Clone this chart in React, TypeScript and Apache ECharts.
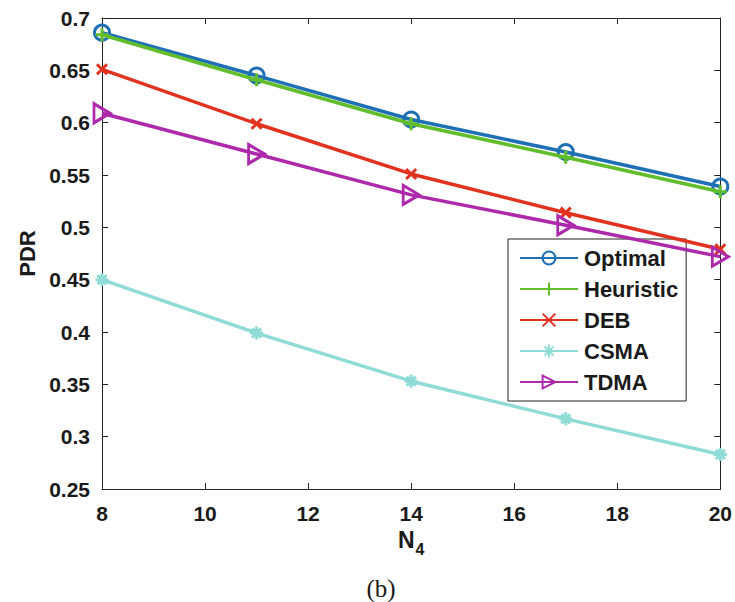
import React, { useEffect, useRef } from "react";
import * as echarts from "echarts";

const xValues = [8, 11, 14, 17, 20];
const optimal = [0.686, 0.645, 0.603, 0.572, 0.539];
const heuristic = [0.684, 0.641, 0.599, 0.567, 0.534];
const deb = [0.651, 0.599, 0.551, 0.514, 0.479];
const csma = [0.45, 0.399, 0.353, 0.317, 0.283];
const tdma = [0.609, 0.57, 0.531, 0.502, 0.472];
const seriesNames = ["Optimal", "Heuristic", "DEB", "CSMA", "TDMA"];

const COLORS = ["#1f6fb4", "#62bd2c", "#e0321f", "#8fdcd6", "#ad2aaa"];
const SYMBOLS = [
  "circle",
  "path://M5,0 L5,10 M0,5 L10,5",
  "path://M0,0 L10,10 M10,0 L0,10",
  "path://M5,0 L5,10 M0,5 L10,5 M1.5,1.5 L8.5,8.5 M8.5,1.5 L1.5,8.5",
  "path://M0,0 L10,5 L0,10 Z",
];
const SIZES = [15, 13, 10, 13, [16, 19]];

export default function App() {
  const ref = useRef<HTMLDivElement>(null);
  useEffect(() => {
    if (!ref.current) return;
    const chart = echarts.init(ref.current, undefined, { renderer: "svg" });
    const data = [optimal, heuristic, deb, csma, tdma];
    const font = "Liberation Sans";
    const series = seriesNames.map((name, i) => ({
      name,
      type: "line",
      data: xValues.map((x, j) => [x, data[i][j]]),
      symbol: SYMBOLS[i],
      symbolSize: SIZES[i],
      showAllSymbol: true,
      z: 2 + i,
      lineStyle: { color: COLORS[i], width: 3.5 },
      itemStyle: {
        color: i === 0 || i === 4 ? "rgba(255,255,255,0)" : COLORS[i],
        borderColor: COLORS[i],
        borderWidth: 3,
      },
    }));
    const axisLabelStyle = {
      fontFamily: font,
      fontWeight: "bold" as const,
      fontSize: 21,
      color: "#1a1a1a",
    };
    chart.setOption({
      animation: false,
      backgroundColor: "#fff",
      grid: { left: 102, right: 14, top: 18, bottom: 113, containLabel: false },
      legend: {
        orient: "vertical",
        left: 508,
        top: 239,
        padding: [8, 8, 8, 11],
        itemWidth: 58,
        itemHeight: 16,
        itemGap: 9,
        borderColor: "#222",
        borderWidth: 1,
        backgroundColor: "#fff",
        textStyle: { fontFamily: font, fontWeight: "bold", fontSize: 22, color: "#1a1a1a", padding: [0, 0, 0, 1] },
        data: seriesNames,
      },
      xAxis: [
        {
          type: "value",
          min: 8,
          max: 20,
          interval: 2,
          name: "{n|N}{s|4}",
          nameLocation: "middle",
          nameGap: 34,
          nameTextStyle: {
            rich: {
              n: { fontFamily: font, fontWeight: "bold", fontSize: 23, color: "#1a1a1a" },
              s: {
                fontFamily: font,
                fontWeight: "bold",
                fontSize: 16,
                color: "#1a1a1a",
                padding: [18, 0, 0, 1],
              },
            },
          },
          axisLine: { show: true, lineStyle: { color: "#222", width: 1 } },
          axisTick: { show: true, inside: true, length: 6, lineStyle: { color: "#222" } },
          axisLabel: { ...axisLabelStyle, margin: 14 },
          splitLine: { show: false },
        },
        {
          type: "value",
          position: "top",
          min: 8,
          max: 20,
          interval: 2,
          axisLine: { show: true, lineStyle: { color: "#222", width: 1 } },
          axisTick: { show: true, inside: true, length: 6, lineStyle: { color: "#222" } },
          axisLabel: { show: false },
          splitLine: { show: false },
        },
      ],
      yAxis: [
        {
          type: "value",
          min: 0.25,
          max: 0.7,
          interval: 0.05,
          name: "PDR",
          nameLocation: "middle",
          nameGap: 64,
          nameTextStyle: { fontFamily: font, fontWeight: "bold", fontSize: 22, color: "#1a1a1a" },
          axisLine: { show: true, lineStyle: { color: "#222", width: 1 } },
          axisTick: { show: true, inside: true, length: 6, lineStyle: { color: "#222" } },
          axisLabel: {
            ...axisLabelStyle,
            margin: 12,
            formatter: (v: number) => String(Math.round(v * 100) / 100),
          },
          splitLine: { show: false },
        },
        {
          type: "value",
          position: "right",
          min: 0.25,
          max: 0.7,
          interval: 0.05,
          axisLine: { show: true, lineStyle: { color: "#222", width: 1 } },
          axisTick: { show: true, inside: true, length: 6, lineStyle: { color: "#222" } },
          axisLabel: { show: false },
          splitLine: { show: false },
        },
      ],
      graphic: [
        {
          type: "text",
          x: 381,
          y: 588,
          style: {
            text: "(b)",
            fontFamily: "Liberation Serif",
            fontSize: 25,
            fill: "#1a1a1a",
            align: "center",
            verticalAlign: "middle",
          },
        },
      ],
      series,
    });
    return () => chart.dispose();
  }, []);
  return (
    <div
      ref={ref}
      style={{ position: "fixed", left: 0, top: 0, width: 735, height: 602 }}
    />
  );
}
